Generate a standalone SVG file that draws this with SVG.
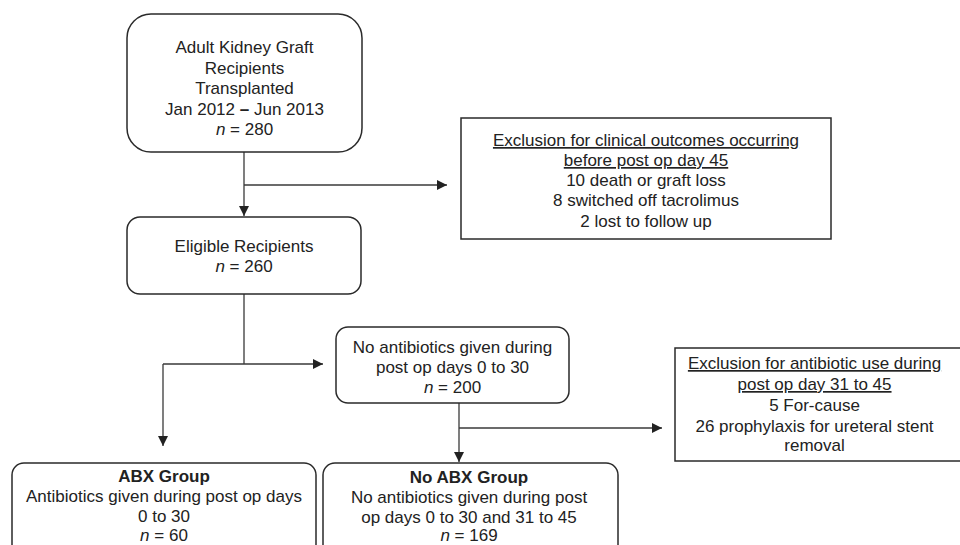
<svg xmlns="http://www.w3.org/2000/svg" width="960" height="545" viewBox="0 0 960 545">
<defs>
<marker id="ah" viewBox="0 0 10 10" refX="10" refY="5" markerWidth="10" markerHeight="10" markerUnits="userSpaceOnUse" orient="auto">
<path d="M0,0 L10,5 L0,10 Z" fill="#222"/>
</marker>
<style>
.box{fill:#fff;stroke:#2a2a2a;stroke-width:1.5}
.t{font-family:"Liberation Sans",Arial,sans-serif;font-size:17px;fill:#222;text-anchor:middle}
.b{font-weight:bold}
.u{text-decoration:underline}
.c{fill:none;stroke:#3a3a3a;stroke-width:1.3}
</style>
</defs>
<rect width="960" height="545" fill="#fff"/>
<g id="connectors">
<path class="c" d="M244,152 V216" marker-end="url(#ah)"/>
<path class="c" d="M244,185 H447" marker-end="url(#ah)"/>
<path class="c" d="M244,294 V364 M163,364 H323" marker-end="url(#ah)"/>
<path class="c" d="M163,364 V446" marker-end="url(#ah)"/>
<path class="c" d="M459,403 V462" marker-end="url(#ah)"/>
<path class="c" d="M459,428 H662" marker-end="url(#ah)"/>
</g>
<g id="recipients">
<rect class="box" x="127" y="14" width="235" height="138" rx="24"/>
<text class="t" x="244.5" y="53">Adult Kidney Graft</text>
<text class="t" x="244.5" y="74">Recipients</text>
<text class="t" x="244.5" y="94">Transplanted</text>
<text class="t" x="244.5" y="115">Jan 2012 <tspan class="b">–</tspan> Jun 2013</text>
<text class="t" x="244.5" y="135"><tspan font-style="italic">n</tspan> = 280</text>
</g>
<g id="exclusion1">
<rect class="box" x="461" y="118" width="370" height="121"/>
<text class="t u" x="646" y="146">Exclusion for clinical outcomes occurring</text>
<text class="t u" x="646" y="166">before post op day 45</text>
<text class="t" x="646" y="186">10 death or graft loss</text>
<text class="t" x="646" y="206">8 switched off tacrolimus</text>
<text class="t" x="646" y="227">2 lost to follow up</text>
</g>
<g id="eligible">
<rect class="box" x="127" y="217" width="234" height="77" rx="13"/>
<text class="t" x="244" y="252">Eligible Recipients</text>
<text class="t" x="244" y="272"><tspan font-style="italic">n</tspan> = 260</text>
</g>
<g id="noantibiotics">
<rect class="box" x="336" y="327" width="233" height="76" rx="12"/>
<text class="t" x="452.5" y="353">No antibiotics given during</text>
<text class="t" x="452.5" y="373">post op days 0 to 30</text>
<text class="t" x="452.5" y="393"><tspan font-style="italic">n</tspan> = 200</text>
</g>
<g id="exclusion2">
<rect class="box" x="675" y="348" width="290" height="113"/>
<text class="t u" x="814.5" y="369">Exclusion for antibiotic use during</text>
<text class="t u" x="814.5" y="390">post op day 31 to 45</text>
<text class="t" x="814.5" y="411">5 For-cause</text>
<text class="t" x="814.5" y="432">26 prophylaxis for ureteral stent</text>
<text class="t" x="814.5" y="451">removal</text>
</g>
<g id="abx">
<rect class="box" x="12" y="463" width="304" height="100" rx="12"/>
<text class="t b" x="164" y="482">ABX Group</text>
<text class="t" x="164" y="502">Antibiotics given during post op days</text>
<text class="t" x="164" y="522">0 to 30</text>
<text class="t" x="164" y="541"><tspan font-style="italic">n</tspan> = 60</text>
</g>
<g id="noabx">
<rect class="box" x="323" y="463" width="295" height="100" rx="12"/>
<text class="t b" x="469" y="483">No ABX Group</text>
<text class="t" x="469" y="503">No antibiotics given during post</text>
<text class="t" x="469" y="523">op days 0 to 30 and 31 to 45</text>
<text class="t" x="469" y="541"><tspan font-style="italic">n</tspan> = 169</text>
</g>
</svg>
